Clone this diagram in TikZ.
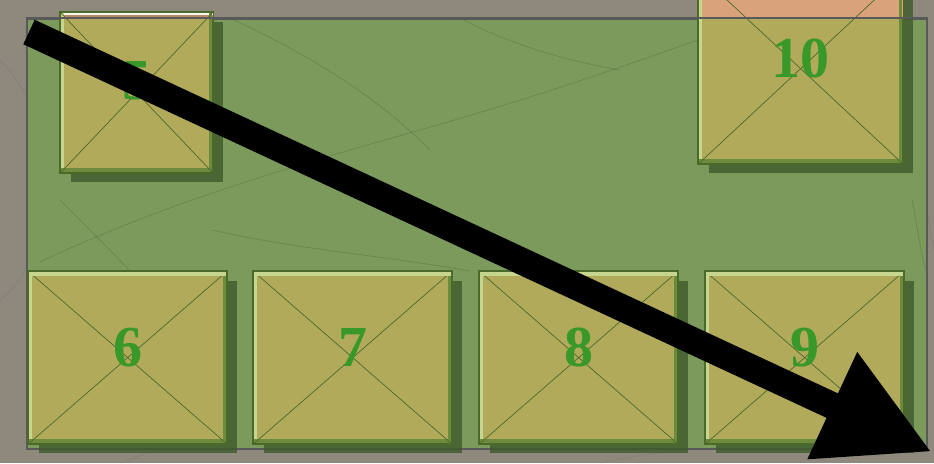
\documentclass[tikz,border=0pt]{standalone}
\usepackage{fontspec}
\setmainfont{Liberation Serif}
\usetikzlibrary{arrows.meta,shadows}

\definecolor{marble}{HTML}{8E897C}
\definecolor{felt}{HTML}{7C9A5C}
\definecolor{cardface}{HTML}{B1AA5A}
\definecolor{cardedge}{HTML}{4A6A2A}
\definecolor{cardlight}{HTML}{C6D68E}
\definecolor{carddark}{HTML}{6E8A3C}
\definecolor{cardshade}{HTML}{3E5A2A}
\definecolor{cardorange}{HTML}{D9A27A}
\definecolor{numgreen}{HTML}{38982A}

\begin{document}
\begin{tikzpicture}[x=1pt,y=-1pt,
    panel/.style={draw=black!65, line width=1.5pt, fill=felt, inner sep=0pt, anchor=north west},
    card/.style={draw=cardedge, line width=1.3pt, fill=cardface, inner sep=0pt, anchor=north west,
        drop shadow={shadow xshift=10pt, shadow yshift=-9pt, fill=cardshade, opacity=0.8}},
    cross/.style={draw=cardedge, line width=0.7pt},
    num/.style={font=\fontsize{58}{58}\selectfont\bfseries, text=numgreen},
    vein/.style={draw=cardshade, opacity=0.35, line width=0.6pt},
    mvein/.style={draw=black!55, opacity=0.4, line width=0.7pt}]
    \clip (0,0) rectangle (934,463);

    % Marble table
    \fill[marble] (0,0) rectangle (934,463);
    \draw[mvein] (0,60) .. controls (10,70) .. (26,95);
    \draw[mvein] (0,300) .. controls (12,290) .. (26,270);
    \draw[mvein] (926,200) .. controls (930,230) .. (934,250);
    \draw[mvein] (600,463) .. controls (640,455) .. (700,448);
    \draw[mvein] (120,463) .. controls (140,456) .. (160,448);

    % Felt panel
    \node[panel, minimum width=900pt, minimum height=430pt] (panel) at (26,18) {};
    \draw[vein] (40,262) .. controls (150,210) and (260,175) .. (420,130);
    \draw[vein] (420,130) .. controls (560,90) and (640,60) .. (698,40);
    \draw[vein] (230,18) .. controls (320,60) and (380,100) .. (430,150);
    \draw[vein] (212,230) .. controls (300,250) and (380,255) .. (470,271);
    \draw[vein] (460,18) .. controls (500,40) and (560,60) .. (620,70);
    \draw[vein] (60,200) .. controls (90,230) and (110,250) .. (130,271);
    \draw[vein] (912,200) .. controls (918,230) and (920,250) .. (926,270);

    % Cards
    \node[card, minimum width=152pt, minimum height=160pt] (c5) at (60,12) {};
    \node[card, minimum width=204pt, minimum height=190pt] (c10) at (698,-27) {};
    \node[card, minimum width=198pt, minimum height=172pt] (c6) at (28,271) {};
    \node[card, minimum width=198pt, minimum height=172pt] (c7) at (253,271) {};
    \node[card, minimum width=198pt, minimum height=172pt] (c8) at (479,271) {};
    \node[card, minimum width=198pt, minimum height=172pt] (c9) at (705,271) {};

    % Parts above the felt
    \fill[cardorange] (c10.north west) rectangle (c10.east |- panel.north);
    \fill[cardorange!85!black] (c5.north west) rectangle (c5.east |- panel.north);
    \fill[white!92!cardorange] (c5.north west) rectangle ([yshift=-3pt]c5.north east);

    % Bevels and crosses
    \foreach \c in {c5,c10,c6,c7,c8,c9} {
        \fill[cardlight] ([shift={(1,-1)}]\c.south west) rectangle ([shift={(4,1)}]\c.north west);
        \fill[carddark] ([shift={(1,-1)}]\c.south west) rectangle ([shift={(-1,-5)}]\c.south east);
        \fill[carddark] ([shift={(-1,-1)}]\c.south east) rectangle ([shift={(-4,1)}]\c.north east);
        \draw[cross] (\c.north west) -- (\c.south east);
        \draw[cross] (\c.north east) -- (\c.south west);
        \draw[draw=cardedge, line width=1.3pt] (\c.north west) rectangle (\c.south east);
    }
    \foreach \c in {c6,c7,c8,c9}
        \fill[cardlight] ([shift={(1,1)}]\c.north west) rectangle ([shift={(-1,5)}]\c.north east);
    \draw[draw=black!65, line width=1.5pt] (panel.north west) -- (panel.north east);

    % Numbers
    \node[num] (n5) at ([yshift=12pt]c5.center) {5};
    \node[num] (n10) at ([yshift=10pt]c10.center) {10};
    \node[num] (n6) at ([yshift=10pt]c6.center) {6};
    \node[num] (n7) at ([yshift=10pt]c7.center) {7};
    \node[num] (n8) at ([yshift=10pt]c8.center) {8};
    \node[num] (n9) at ([yshift=10pt]c9.center) {9};

    % Big arrow
    \coordinate (from) at (29,32);
    \coordinate (to) at (932,452);
    \draw[line width=27pt, -{Triangle[length=110pt, width=110pt]}] (from) -- (to);
\end{tikzpicture}
\end{document}
